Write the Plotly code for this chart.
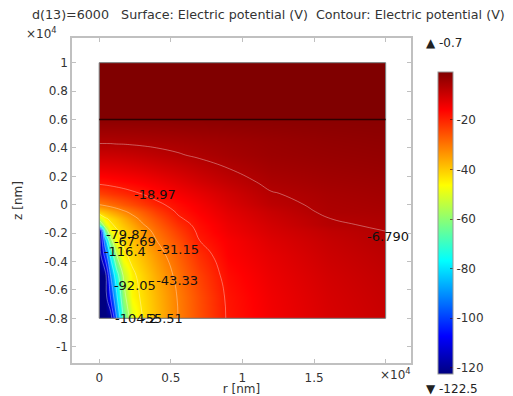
import plotly.graph_objects as go

# ---------------- data ----------------
r_nm = [0, 400, 800, 1200, 1700, 2300, 3000, 4000, 5500, 7000, 9000, 12000, 16000, 20000]
z_nm = [-8000, -6500, -5000, -3500, -2500, -1800, -1400, -1000, -500, 0,
        800, 1600, 2500, 3500, 4500, 6000]

V_z_m8000 = [-122.5, -122.5, -122.5, -93.0, -66.8, -50.3, -43.5, -38.6, -31.15, -25.4, -18.4, -14.5, -11.3, -9.5]
V_z_m6500 = [-122.5, -122.5, -103.0, -82.6, -59.1, -45.8, -42.5, -37.8, -30.8, -25.1, -18.1, -14.2, -11.0, -9.1]
V_z_m5000 = [-122.5, -122.5, -92.0, -73.9, -54.2, -44.7, -41.3, -36.4, -29.6, -23.7, -17.2, -13.6, -10.5, -8.6]
V_z_m3500 = [-122.5, -100.0, -77.0, -55.7, -44.5, -41.5, -38.3, -33.8, -27.4, -21.4, -15.8, -12.8, -9.7, -7.9]
V_z_m2500 = [-122.5, -86.0, -58.4, -45.9, -42.0, -38.8, -35.6, -31.15, -25.1, -18.97, -15.3, -11.9, -9.1, -7.2]
V_z_m1800 = [-122.5, -62.0, -47.0, -43.9, -41.2, -37.9, -34.0, -29.1, -23.0, -17.9, -14.2, -11.0, -8.3, -6.75]
V_z_m1400 = [-67.0, -50.0, -44.3, -42.0, -39.2, -35.8, -31.7, -27.5, -21.4, -17.4, -13.8, -10.5, -7.1, -6.45]
V_z_m1000 = [-51.5, -44.6, -42.2, -39.9, -36.9, -33.3, -29.8, -25.8, -19.8, -16.6, -13.2, -9.9, -6.85, -6.1]
V_z_m500 = [-39.9, -38.1, -36.3, -34.4, -32.1, -29.6, -27.0, -23.2, -18.3, -15.7, -12.5, -9.2, -6.1, -5.7]
V_z_0 = [-31.2, -30.1, -29.0, -27.9, -26.5, -24.8, -22.9, -20.1, -17.2, -14.8, -11.6, -8.0, -5.9, -5.3]
V_z_800 = [-23.7, -23.0, -22.3, -21.6, -20.8, -19.8, -18.7, -17.0, -14.9, -13.0, -10.4, -7.0, -5.5, -4.8]
V_z_1600 = [-17.7, -17.5, -17.2, -16.9, -16.5, -16.0, -15.3, -14.2, -12.4, -10.6, -8.5, -5.9, -4.8, -4.3]
V_z_2500 = [-13.9, -13.8, -13.6, -13.4, -13.1, -12.7, -12.2, -11.3, -10.0, -8.6, -6.9, -5.0, -4.2, -3.7]
V_z_3500 = [-9.7, -9.7, -9.6, -9.5, -9.3, -9.0, -8.6, -8.0, -7.1, -6.2, -5.2, -4.1, -3.5, -3.1]
V_z_4500 = [-6.1, -6.1, -6.1, -6.0, -6.0, -5.9, -5.8, -5.6, -5.3, -4.9, -4.4, -3.7, -3.0, -2.6]
V_z_6000 = [-2.3, -2.3, -2.3, -2.3, -2.3, -2.3, -2.3, -2.3, -2.2, -2.2, -2.1, -2.0, -1.9, -1.8]

V_lower = [V_z_m8000, V_z_m6500, V_z_m5000, V_z_m3500, V_z_m2500, V_z_m1800, V_z_m1400,
           V_z_m1000, V_z_m500, V_z_0, V_z_800, V_z_1600, V_z_2500, V_z_3500, V_z_4500, V_z_6000]

# upper domain (above interface), uniform potential
r_upper = [0, 20000]
z_upper = [6000, 10000]
V_upper = [[-0.7, -0.7], [-0.7, -0.7]]

V_min, V_max = -122.5, -0.7

contour_levels = [-116.4, -104.2, -92.05, -79.87, -67.69, -55.51, -43.33, -31.15, -18.97, -6.790]
label_text = ["-6.790", "-18.97", "-31.15", "-43.33", "-55.51", "-67.69", "-79.87", "-92.05", "-104.2", "-116.4"]
label_r = [20170, 3890, 5500, 5440, 4380, 2490, 1930, 2490, 2570, 1790]
label_z = [-2320, 630, -3240, -5420, -8100, -2680, -2180, -5770, -8100, -3380]

domain_r = [0, 20000, 20000, 0, 0]
domain_z = [-8000, -8000, 10000, 10000, -8000]
interface_r = [0, 20000]
interface_z = [6000, 6000]

x_tickvals = [0, 5000, 10000, 15000, 20000]
x_ticktext = ["0", "0.5", "1", "1.5", ""]
y_tickvals = [-10000, -8000, -6000, -4000, -2000, 0, 2000, 4000, 6000, 8000, 10000]
y_ticktext = ["-1", "-0.8", "-0.6", "-0.4", "-0.2", "0", "0.2", "0.4", "0.6", "0.8", "1"]
cb_tickvals = [-120, -100, -80, -60, -40, -20]
cb_ticktext = ["-120", "-100", "-80", "-60", "-40", "-20"]

# ---------------- figure ----------------
FONT = "DejaVu Sans"
jet = [[0.0, "rgb(0,0,128)"], [0.125, "rgb(0,0,255)"], [0.375, "rgb(0,255,255)"],
       [0.625, "rgb(255,255,0)"], [0.875, "rgb(255,0,0)"], [1.0, "rgb(128,0,0)"]]

W, H = 513, 396
ml, mr, mt, mb = 72, 102, 38, 33
pw, ph = W - ml - mr, H - mt - mb

def px(xp):
    return (xp - ml) / pw

def py(yp):
    return (H - mb - yp) / ph

fig = go.Figure()

lev_size = (contour_levels[-1] - contour_levels[0]) / (len(contour_levels) - 1)
fig.add_trace(go.Contour(
    x=r_nm, y=z_nm, z=V_lower, coloraxis="coloraxis",
    autocontour=False,
    contours=dict(start=contour_levels[0], end=contour_levels[-1], size=lev_size,
                  coloring="heatmap", showlabels=False),
    line=dict(color="rgba(255,255,255,0.35)", width=1, smoothing=1.3),
    hoverinfo="skip",
))
fig.add_trace(go.Contour(
    x=r_upper, y=z_upper, z=V_upper, coloraxis="coloraxis",
    autocontour=False,
    contours=dict(start=V_min, end=V_min, size=1, coloring="heatmap", showlines=False),
    line=dict(width=0),
    hoverinfo="skip",
))
fig.add_trace(go.Scatter(x=domain_r, y=domain_z, mode="lines",
                         line=dict(color="rgb(110,110,110)", width=1), hoverinfo="skip"))
fig.add_trace(go.Scatter(x=interface_r, y=interface_z, mode="lines",
                         line=dict(color="rgb(45,0,0)", width=1.3), hoverinfo="skip"))
fig.add_trace(go.Scatter(x=label_r, y=label_z, mode="text", text=label_text,
                         textposition="middle center", cliponaxis=False,
                         textfont=dict(family=FONT, size=13, color="#111"), hoverinfo="skip"))

axis_common = dict(showgrid=False, zeroline=False, showline=True, linecolor="rgb(192,192,192)",
                   linewidth=1.5, mirror="ticks", ticks="inside", ticklen=4, automargin=False,
                   tickcolor="rgb(192,192,192)", tickfont=dict(family=FONT, size=12, color="#333"))

fig.update_layout(
    width=W, height=H, margin=dict(l=ml, r=mr, t=mt, b=mb, autoexpand=False),
    paper_bgcolor="white", plot_bgcolor="white", showlegend=False,
    font=dict(family=FONT, size=12, color="#333"),
    title=dict(text="d(13)=6000\u00a0\u00a0\u00a0Surface: Electric potential (V)\u00a0\u00a0Contour: Electric potential (V)",
               font=dict(family=FONT, size=12.7, color="#333"),
               xref="container", x=32 / W, xanchor="left",
               yref="container", y=(H - 15) / H, yanchor="middle"),
    xaxis=dict(range=[-1900, 21770], tickvals=x_tickvals, ticktext=x_ticktext,
               ticklabelstandoff=3,
               title=dict(text="r [nm]", standoff=0, font=dict(family=FONT, size=12, color="#333")),
               **axis_common),
    yaxis=dict(range=[-11148, 11740], tickvals=y_tickvals, ticktext=y_ticktext,
               title=dict(text="z [nm]", standoff=19, font=dict(family=FONT, size=12, color="#333")),
               **axis_common),
    coloraxis=dict(
        colorscale=jet, cmin=V_min, cmax=V_max,
        colorbar=dict(thickness=15, thicknessmode="pixels", len=302, lenmode="pixels",
                      x=px(438), xanchor="left", y=py(72), yanchor="top",
                      xpad=0, ypad=0, outlinewidth=1, outlinecolor="rgb(150,150,150)",
                      tickvals=cb_tickvals, ticktext=cb_ticktext,
                      ticks="inside", ticklen=3, tickcolor="rgba(60,0,0,0.6)",
                      tickfont=dict(family=FONT, size=12, color="#333")),
    ),
    annotations=[
        dict(text="\u00d710<sup>4</sup>", xref="paper", yref="paper", x=px(41), y=py(33),
             xanchor="center", yanchor="middle",
             showarrow=False, font=dict(family=FONT, size=12, color="#333")),
        dict(text="\u00d710<sup>4</sup>", xref="paper", yref="paper", x=px(395), y=py(374),
             xanchor="center", yanchor="middle",
             showarrow=False, font=dict(family=FONT, size=12, color="#333")),
        dict(text="\u25b2 -0.7", xref="paper", yref="paper", x=px(424), y=py(43),
             xanchor="left", yanchor="middle", showarrow=False, font=dict(family=FONT, size=12, color="#222")),
        dict(text="\u25bc -122.5", xref="paper", yref="paper", x=px(424), y=py(389),
             xanchor="left", yanchor="middle", showarrow=False, font=dict(family=FONT, size=12, color="#222")),
    ],
)

fig.write_html("out.html")
